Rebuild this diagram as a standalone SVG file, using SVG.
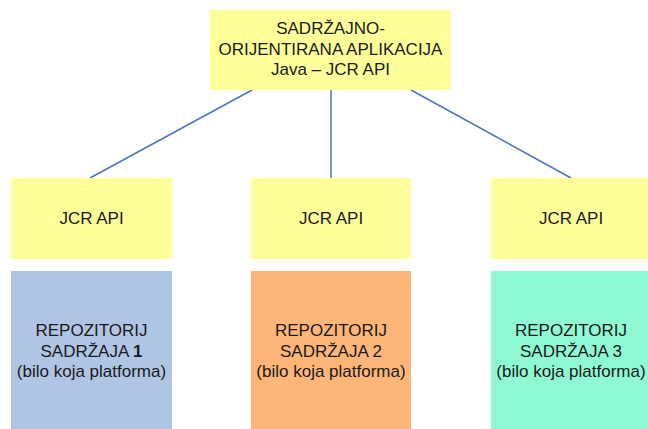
<svg xmlns="http://www.w3.org/2000/svg" width="648" height="429" viewBox="0 0 648 429">
<style>
text{font-family:"Liberation Sans",Arial,sans-serif;font-size:17px;fill:#1a1a1a;text-anchor:middle}
.api{fill:#FFFF99}
.edge{stroke:#4A74C0;stroke-width:1.5;fill:none}
</style>
<rect width="648" height="429" fill="#fff"/>
<g id="connectors">
<line class="edge" x1="252" y1="90" x2="90" y2="178"/>
<line class="edge" x1="331" y1="90" x2="331" y2="178"/>
<line class="edge" x1="411" y1="90" x2="571" y2="178"/>
</g>
<g id="app">
<rect class="api" x="210" y="10" width="241" height="80"/>
<text x="330.5" y="34">SADRŽAJNO-</text>
<text x="330.5" y="55">ORIJENTIRANA APLIKACIJA</text>
<text x="330.5" y="75">Java – JCR API</text>
</g>
<g id="api1">
<rect class="api" x="11" y="178" width="161" height="81"/>
<text x="91.5" y="224">JCR API</text>
</g>
<g id="api2">
<rect class="api" x="251" y="178" width="160" height="81"/>
<text x="331" y="224">JCR API</text>
</g>
<g id="api3">
<rect class="api" x="491" y="178" width="157" height="81"/>
<text x="571" y="224">JCR API</text>
</g>
<g id="repo1">
<rect x="11" y="271" width="161" height="158" fill="#B0C5E4"/>
<text x="91.5" y="336">REPOZITORIJ</text>
<text x="91.5" y="357">SADRŽAJA <tspan font-weight="bold">1</tspan></text>
<text x="91.5" y="377">(bilo koja platforma)</text>
</g>
<g id="repo2">
<rect x="251" y="271" width="160" height="158" fill="#FDB677"/>
<text x="331" y="336">REPOZITORIJ</text>
<text x="331" y="357">SADRŽAJA 2</text>
<text x="331" y="377">(bilo koja platforma)</text>
</g>
<g id="repo3">
<rect x="491" y="271" width="157" height="158" fill="#8FF9D4"/>
<text x="571" y="336">REPOZITORIJ</text>
<text x="571" y="357">SADRŽAJA 3</text>
<text x="571" y="377">(bilo koja platforma)</text>
</g>
</svg>
